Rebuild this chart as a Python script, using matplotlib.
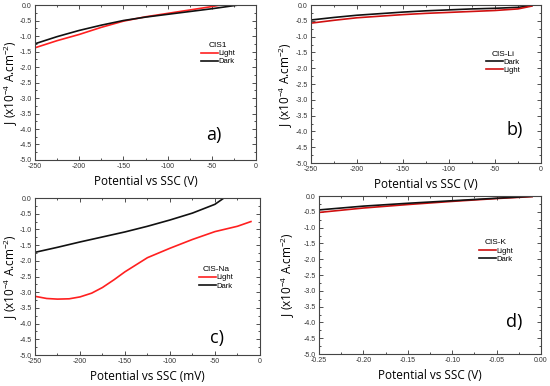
import matplotlib
matplotlib.use("Agg")
import matplotlib.pyplot as plt
from matplotlib.ticker import MultipleLocator, FormatStrFormatter

plt.rcParams["axes.unicode_minus"] = False
plt.rcParams["font.family"] = ["Liberation Sans", "DejaVu Sans"]
plt.rcParams["mathtext.fontset"] = "custom"
plt.rcParams["mathtext.rm"] = "Open Sans"

# panel a) CIS1
a_x = [-250, -225, -200, -175, -150, -125, -100, -75, -50, -40]
a_light = [-1.38, -1.15, -0.95, -0.72, -0.52, -0.38, -0.27, -0.16, -0.05, 0.0]
a_xd = [-250, -225, -200, -175, -150, -125, -100, -75, -50, -20]
a_dark = [-1.25, -1.02, -0.82, -0.65, -0.5, -0.39, -0.3, -0.21, -0.12, 0.0]

# panel b) CIS-Li
b_x = [-250, -225, -200, -175, -150, -125, -100, -75, -50, -25, -10]
b_dark = [-0.47, -0.39, -0.32, -0.27, -0.22, -0.18, -0.15, -0.12, -0.1, -0.07, -0.02]
b_light = [-0.57, -0.48, -0.4, -0.35, -0.3, -0.26, -0.23, -0.2, -0.17, -0.12, -0.03]

# panel c) CIS-Na
c_xd = [-250, -225, -200, -175, -150, -125, -100, -75, -50, -40]
c_dark = [-1.73, -1.57, -1.4, -1.24, -1.08, -0.9, -0.7, -0.48, -0.2, 0.0]
c_xl = [-250, -237, -225, -212, -200, -187, -175, -162, -150, -125, -100, -75, -50, -25, -10]
c_light = [-3.13, -3.2, -3.22, -3.21, -3.15, -3.03, -2.85, -2.6, -2.35, -1.9, -1.6, -1.32, -1.07, -0.9, -0.75]

# panel d) CIS-K
d_x = [-0.25, -0.2, -0.15, -0.1, -0.05, -0.01]
d_light = [-0.52, -0.38, -0.27, -0.17, -0.08, -0.02]
d_dark = [-0.44, -0.32, -0.23, -0.15, -0.07, -0.01]

RED = "#ff2020"
BLACK = "#111111"
ylabel = r"J (x10$^{-4}$ A.cm$^{-2}$)"
LABEL_FONT = ["Open Sans", "DejaVu Sans"]

fig = plt.figure(figsize=(5.5, 3.86), dpi=100)


def style_axes(ax, xmin, xmax, xmajor, xminor, xfmt, xlabel, ylab_x):
    ax.set_xlim(xmin, xmax)
    ax.set_ylim(-5.0, 0.0)
    ax.xaxis.set_major_locator(MultipleLocator(xmajor))
    ax.xaxis.set_minor_locator(MultipleLocator(xminor))
    ax.xaxis.set_major_formatter(FormatStrFormatter(xfmt))
    ax.yaxis.set_major_locator(MultipleLocator(0.5))
    ax.yaxis.set_minor_locator(MultipleLocator(0.25))
    ax.yaxis.set_major_formatter(FormatStrFormatter("%.1f"))
    ax.tick_params(which="both", direction="in", top=True, right=True,
                   labelsize=5, width=0.6, colors="#333333", pad=2.5)
    ax.tick_params(which="major", length=3)
    ax.tick_params(which="minor", length=1.5)
    for s in ax.spines.values():
        s.set_linewidth(0.8)
        s.set_color("#444444")
    ax.set_xlabel(xlabel, fontsize=8.5, family=LABEL_FONT, labelpad=3)
    ax.set_ylabel(ylabel, fontsize=8.5, family=LABEL_FONT)
    ax.yaxis.set_label_coords(ylab_x, 0.5)


def add_legend(ax, title, x, y):
    leg = ax.legend(title=title, loc="upper left", bbox_to_anchor=(x, y), frameon=False,
                    fontsize=5.5, title_fontsize=6, handlelength=2.2, handletextpad=0.1,
                    labelspacing=0.1, borderpad=0, borderaxespad=0)
    leg._legend_box.align = "center"


def panel_letter(ax, s, x, y):
    ax.text(x, y, s, transform=ax.transAxes, fontsize=13, ha="center", va="center",
            family=LABEL_FONT)


# a)
ax = fig.add_axes([0.0636, 0.5855, 0.402, 0.4015])
ax.plot(a_x, a_light, color=RED, lw=1.2, label="Light")
ax.plot(a_xd, a_dark, color=BLACK, lw=1.2, label="Dark")
style_axes(ax, -250, 0, 50, 25, "%d", "Potential vs SSC (V)", -0.068)
add_legend(ax, "CIS1", 0.75, 0.76)
panel_letter(ax, "a)", 0.81, 0.16)

# b)
ax = fig.add_axes([0.5655, 0.5777, 0.418, 0.409])
ax.plot(b_x, b_dark, color=BLACK, lw=1.2, label="Dark")
ax.plot(b_x, b_light, color="#d01010", lw=1.2, label="Light")
style_axes(ax, -250, 0, 50, 25, "%d", "Potential vs SSC (V)", -0.07)
add_legend(ax, "CIS-Li", 0.76, 0.71)
panel_letter(ax, "b)", 0.887, 0.21)

# c)
ax = fig.add_axes([0.0636, 0.0803, 0.409, 0.4067])
ax.plot(c_xl, c_light, color=RED, lw=1.2, label="Light")
ax.plot(c_xd, c_dark, color=BLACK, lw=1.2, label="Dark")
style_axes(ax, -250, 0, 50, 25, "%d", "Potential vs SSC (mV)", -0.066)
add_legend(ax, "CIS-Na", 0.73, 0.565)
panel_letter(ax, "c)", 0.81, 0.11)

# d)
ax = fig.add_axes([0.58, 0.0829, 0.4036, 0.4093])
ax.plot(d_x, d_light, color="#d01010", lw=1.2, label="Light")
ax.plot(d_x, d_dark, color=BLACK, lw=1.2, label="Dark")
style_axes(ax, -0.25, 0.0, 0.05, 0.025, "%.2f", "Potential vs SSC (V)", -0.1)
add_legend(ax, "CIS-K", 0.72, 0.725)
panel_letter(ax, "d)", 0.88, 0.2)

fig.savefig("out.png", dpi=100)
